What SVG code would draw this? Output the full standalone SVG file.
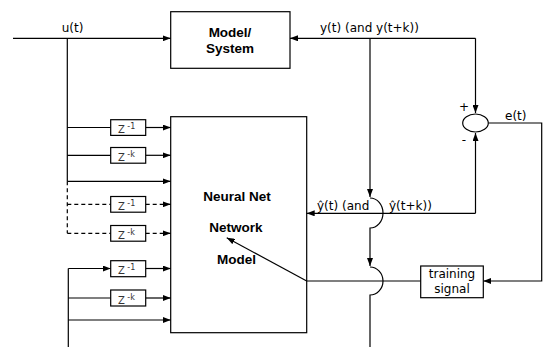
<svg xmlns="http://www.w3.org/2000/svg" width="544" height="347" viewBox="0 0 544 347">
<style>
.ln{fill:none;stroke:#000;stroke-width:1.2}
.ds{fill:none;stroke:#000;stroke-width:1.2;stroke-dasharray:4,3}
.box{fill:#fff;stroke:#000;stroke-width:1.2}
.lbl{font-family:"DejaVu Sans",sans-serif;font-size:12px;fill:#000}
.bld{font-family:"Liberation Sans",Arial,sans-serif;font-size:13.5px;font-weight:bold;fill:#000;text-anchor:middle}
.z{font-family:"DejaVu Sans",sans-serif;font-size:10px;fill:#333}
.sup{font-size:8px}
</style>
<defs>
<marker id="ar" markerWidth="8" markerHeight="6" refX="8" refY="3" orient="auto" markerUnits="userSpaceOnUse">
<path d="M0,0 L8,3 L0,6 Z" fill="#000"/>
</marker>
</defs>
<g id="model-system">
<rect class="box" x="170.7" y="11.7" width="119.3" height="56.6"/>
<text class="bld" x="230" y="36.5">Model/</text>
<text class="bld" x="230" y="53">System</text>
</g>
<g id="neural-net">
<rect class="box" x="170.7" y="116.7" width="136" height="216"/>
<text class="bld" x="237" y="200.5">Neural Net</text>
<text class="bld" x="236" y="231.5">Network</text>
<text class="bld" x="236.5" y="263.5">Model</text>
</g>
<g id="connectors">
<line class="ln" x1="13" y1="38.3" x2="170.7" y2="38.3" marker-end="url(#ar)"/>
<line class="ln" x1="67.3" y1="38.3" x2="67.3" y2="181.3"/>
<line class="ds" x1="67.3" y1="181.3" x2="67.3" y2="233.3"/>
<line class="ln" x1="67.3" y1="127.5" x2="110.7" y2="127.5"/>
<line class="ln" x1="145.7" y1="127.5" x2="170.7" y2="127.5" marker-end="url(#ar)"/>
<line class="ln" x1="67.3" y1="155.3" x2="110.7" y2="155.3"/>
<line class="ln" x1="145.7" y1="155.3" x2="170.7" y2="155.3" marker-end="url(#ar)"/>
<line class="ln" x1="67.3" y1="181.3" x2="170.7" y2="181.3" marker-end="url(#ar)"/>
<line class="ds" x1="67.3" y1="204.3" x2="110.7" y2="204.3"/>
<line class="ds" x1="145.7" y1="204.3" x2="170.7" y2="204.3" marker-end="url(#ar)"/>
<line class="ds" x1="67.3" y1="233.3" x2="110.7" y2="233.3"/>
<line class="ds" x1="145.7" y1="233.3" x2="170.7" y2="233.3" marker-end="url(#ar)"/>
<line class="ln" x1="68.3" y1="268.5" x2="68.3" y2="347"/>
<line class="ln" x1="68.3" y1="268.5" x2="110.7" y2="268.5" marker-end="url(#ar)"/>
<line class="ln" x1="145.7" y1="268.5" x2="170.7" y2="268.5" marker-end="url(#ar)"/>
<line class="ln" x1="68.3" y1="298" x2="110.7" y2="298"/>
<line class="ln" x1="145.7" y1="298" x2="170.7" y2="298" marker-end="url(#ar)"/>
<line class="ln" x1="68.3" y1="320" x2="170.7" y2="320" marker-end="url(#ar)"/>
<line class="ln" x1="475.5" y1="38.3" x2="290" y2="38.3" marker-end="url(#ar)"/>
<line class="ln" x1="475.5" y1="38.3" x2="475.5" y2="113" marker-end="url(#ar)"/>
<path class="ln" d="M370,38.3 V197" marker-end="url(#ar)"/>
<path class="ln" d="M370,198 A13,15 0 0 1 370,228 V266" marker-end="url(#ar)"/>
<path class="ln" d="M370,267 A13,14 0 0 1 370,295 V347"/>
<path class="ln" d="M475.5,213.3 V133" marker-end="url(#ar)"/>
<line class="ln" x1="475.5" y1="213.3" x2="306.7" y2="213.3" marker-end="url(#ar)"/>
<path class="ln" d="M488.3,123 H541.7 V281 H483.3" marker-end="url(#ar)"/>
<line class="ln" x1="306.7" y1="281" x2="420.7" y2="281"/>
<line class="ln" x1="306.7" y1="281" x2="226.7" y2="237.7" marker-end="url(#ar)"/>
</g>
<g id="delay1">
<rect class="box" x="110.7" y="119.7" width="35" height="15.7"/>
<text class="z" x="118" y="133">Z<tspan class="sup" dx="2.5" dy="-4">-1</tspan></text>
</g>
<g id="delayk">
<rect class="box" x="110.7" y="147.5" width="35" height="15.7"/>
<text class="z" x="118" y="161">Z<tspan class="sup" dx="2.5" dy="-4">-k</tspan></text>
</g>
<g id="delay1-dashed">
<rect class="box" x="110.7" y="196.5" width="35" height="15.7"/>
<text class="z" x="118" y="210">Z<tspan class="sup" dx="2.5" dy="-4">-1</tspan></text>
</g>
<g id="delayk-dashed">
<rect class="box" x="110.7" y="225.5" width="35" height="15.7"/>
<text class="z" x="118" y="239">Z<tspan class="sup" dx="2.5" dy="-4">-k</tspan></text>
</g>
<g id="delay1-lower">
<rect class="box" x="110.7" y="260.7" width="35" height="16"/>
<text class="z" x="118" y="274">Z<tspan class="sup" dx="2.5" dy="-4">-1</tspan></text>
</g>
<g id="delayk-lower">
<rect class="box" x="110.7" y="290" width="35" height="16"/>
<text class="z" x="118" y="303.5">Z<tspan class="sup" dx="2.5" dy="-4">-k</tspan></text>
</g>
<g id="sum">
<ellipse class="box" cx="475.5" cy="123" rx="12.8" ry="9"/>
<text class="lbl" x="464" y="111" text-anchor="middle">+</text>
<text class="lbl" x="464" y="144" text-anchor="middle">-</text>
</g>
<g id="training-signal">
<rect class="box" x="420.7" y="266" width="62.6" height="31.7"/>
<text class="lbl" x="452" y="277.5" text-anchor="middle">training</text>
<text class="lbl" x="452" y="292.5" text-anchor="middle">signal</text>
</g>
<g id="labels">
<text class="lbl" x="61.7" y="32">u(t)</text>
<text class="lbl" x="320" y="32">y(t) (and y(t+k))</text>
<text class="lbl" x="505" y="120">e(t)</text>
<text class="lbl" y="210"><tspan x="317">ŷ(t) (and</tspan><tspan x="389">ŷ(t+k))</tspan></text>
</g>
</svg>
